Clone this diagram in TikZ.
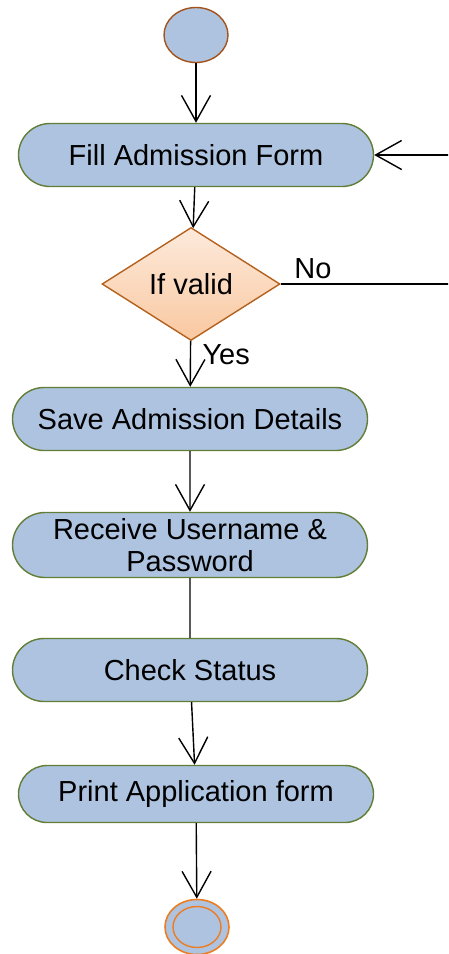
\documentclass[tikz,border=0pt]{standalone}
\usepackage{fontspec}
\setmainfont{Liberation Sans}
\usetikzlibrary{shapes.geometric,shapes.misc,arrows.meta}
\definecolor{actblue}{HTML}{ADC3E0}
\definecolor{actline}{HTML}{627D35}
\definecolor{startline}{HTML}{A4521A}
\definecolor{endline}{HTML}{EC7D22}
\definecolor{decline}{HTML}{B4611E}
\definecolor{dectop}{HTML}{FDEADC}
\definecolor{decbot}{HTML}{F9C8A0}
\tikzset{
 activity/.style={rounded rectangle, draw=actline, fill=actblue, line width=1.4pt,
  minimum width=359pt, minimum height=63pt, inner sep=2pt, align=center},
 startstate/.style={ellipse, draw=startline, fill=actblue, line width=1.4pt,
  minimum width=64pt, minimum height=55pt, inner sep=0pt},
 endstate/.style={ellipse, draw=endline, fill=actblue, line width=1.6pt,
  minimum width=64pt, minimum height=55pt, inner sep=0pt},
 endring/.style={ellipse, draw=endline, line width=1.4pt,
  minimum width=48pt, minimum height=41pt, inner sep=0pt},
 decision/.style={diamond, draw=decline, top color=dectop, bottom color=decbot,
  line width=1.4pt, minimum width=178pt, minimum height=113pt, inner sep=0pt, aspect=1.575},
 flow/.style={line width=1.4pt, -{Straight Barb[length=26pt,width=29pt]}},
 plain/.style={line width=1.4pt}
}
\newcommand{\activity}[4][]{%
 \node[activity,#1] ({#2}) at ({#3}) {#4};%
}
\begin{document}
\begin{tikzpicture}[x=1pt, y=-1pt, font=\fontsize{29}{32}\selectfont]
  \useasboundingbox (0,0) rectangle (448,954);
  \clip (0,0) rectangle (448,954);
  \node[startstate] (st) at (196,35) {};
  \activity{fill}{196,155}{Fill Admission Form};
  \node[decision] (dec) at (191,284) {If valid};
  \activity{save}{190,419}{Save Admission Details};
  \activity[minimum height=65pt]{recv}{190,545}{Receive Username \&\\Password};
  \activity{check}{190,670}{Check Status};
  \activity[minimum height=57pt]{print}{196,794}{Print Application form};
  \node[endstate] (en) at (197,927) {};
  \node[endring] (enring) at (en) {};
  \coordinate (loop) at (470,284);
  \draw[flow] (st) -- (fill);
  \draw[flow] (fill) -- (dec);
  \draw[flow] (dec) -- node[pos=.3, anchor=west, xshift=8pt] {Yes} (save);
  \draw[flow] (save) -- (recv);
  \draw[plain] (recv) -- (check);
  \draw[flow] (check) -- (print);
  \draw[flow] (print) -- (en);
  \draw[flow] (dec) -- node[pos=.17, above, inner sep=5pt] {No} (loop) |- (fill);
\end{tikzpicture}
\end{document}
